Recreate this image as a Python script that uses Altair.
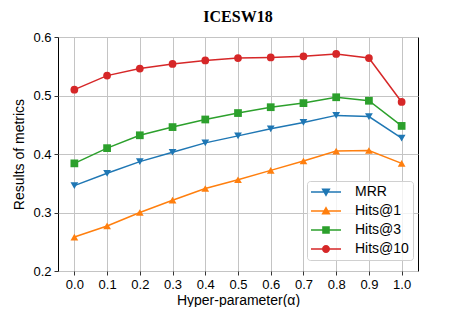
import altair as alt
import pandas as pd

alphas = [0.0, 0.1, 0.2, 0.3, 0.4, 0.5, 0.6, 0.7, 0.8, 0.9, 1.0]
series = ["MRR", "Hits@1", "Hits@3", "Hits@10"]
mrr = [0.346, 0.367, 0.387, 0.403, 0.419, 0.431, 0.443, 0.454, 0.466, 0.464, 0.427]
hits1 = [0.258, 0.277, 0.300, 0.321, 0.341, 0.356, 0.372, 0.388, 0.405, 0.406, 0.384]
hits3 = [0.384, 0.410, 0.432, 0.446, 0.459, 0.470, 0.480, 0.487, 0.497, 0.491, 0.448]
hits10 = [0.510, 0.534, 0.546, 0.554, 0.560, 0.564, 0.565, 0.567, 0.571, 0.564, 0.489]
colors = ["#1f77b4", "#ff7f0e", "#2ca02c", "#d62728"]
y_ticks = [0.2, 0.3, 0.4, 0.5, 0.6]

rows = []
for name, vals in zip(series, [mrr, hits1, hits3, hits10]):
    for a, v in zip(alphas, vals):
        rows.append({"alpha": a, "value": v, "series": name})
df = pd.DataFrame(rows)

# legend symbols: line segment + marker (custom paths, unit = 4px)
line = "M-3.75,-0.19H3.75V0.19H-3.75Z"
leg_paths = [
    line + " M-1.15,-0.9L1.15,-0.9L0,1.2Z",
    line + " M0,-1.2L1.15,0.9L-1.15,0.9Z",
    line + " M-0.95,-0.95H0.95V0.95H-0.95Z",
    line + " M1,0A1,1 0 1,1 -1,0A1,1 0 1,1 1,0Z",
]

color_scale = alt.Scale(domain=series, range=colors)
x_enc = alt.X("alpha:Q", scale=alt.Scale(domain=[-0.05, 1.05], nice=False, zero=False),
              axis=alt.Axis(values=alphas, format=".1f", title="Hyper-parameter(α)"))
y_enc = alt.Y("value:Q", scale=alt.Scale(domain=[0.2, 0.6], nice=False, zero=False),
              axis=alt.Axis(values=y_ticks, format=".1f", title="Results of metrics"))

base = alt.Chart(df)
lines = base.mark_line(strokeWidth=1.5).encode(
    x=x_enc, y=y_enc,
    color=alt.Color("series:N", scale=color_scale, legend=None),
    detail="series:N",
)
points = base.mark_point(filled=True, opacity=1, size=60).encode(
    x=x_enc, y=y_enc,
    color=alt.Color("series:N", scale=color_scale, legend=None),
    shape=alt.Shape("series:N", scale=alt.Scale(domain=series,
                    range=["triangle-down", "triangle-up", "square", "circle"]), legend=None),
)
legend_props = dict(
    title=None, orient="none", legendX=249, legendY=144,
    labelFont="Liberation Sans", labelFontSize=14, labelColor="black",
    symbolSize=64, symbolStrokeWidth=0, symbolOpacity=1,
    labelOffset=22, rowPadding=5, padding=4, symbolOffset=8,
    fillColor="rgba(255,255,255,0.8)", strokeColor="#d0d0d0", cornerRadius=3,
)
leg = base.mark_point(filled=True, size=64).encode(
    x=x_enc, y=y_enc,
    color=alt.Color("series:N", scale=color_scale, legend=alt.Legend(**legend_props)),
    shape=alt.Shape("series:N", scale=alt.Scale(domain=series, range=leg_paths),
                    legend=alt.Legend(**legend_props)),
).transform_filter("false")

chart = alt.layer(lines, points, leg).resolve_scale(
    shape="independent", color="independent"
).properties(
    width=360, height=234,
    title=alt.Title("ICESW18", font="Liberation Serif", fontSize=16, fontWeight="bold",
                    color="black", offset=6),
    autosize=alt.AutoSizeParams(type="none"),
    padding={"left": 50, "top": 29, "right": 20, "bottom": 36},
).configure_view(stroke="black", strokeWidth=1).configure_axis(
    domain=False, grid=True, gridColor="#c4c4c4", gridWidth=1,
    tickColor="black", tickSize=4, tickWidth=0.8,
    labelFont="Liberation Sans", labelFontSize=13, labelColor="black", labelPadding=3,
    titleFont="Liberation Sans", titleFontSize=14, titleFontWeight="normal", titleColor="black",
).configure_axisX(titlePadding=2).configure_axisY(titlePadding=6)

chart.save("out.html", embed_options={"renderer": "svg", "actions": False})
